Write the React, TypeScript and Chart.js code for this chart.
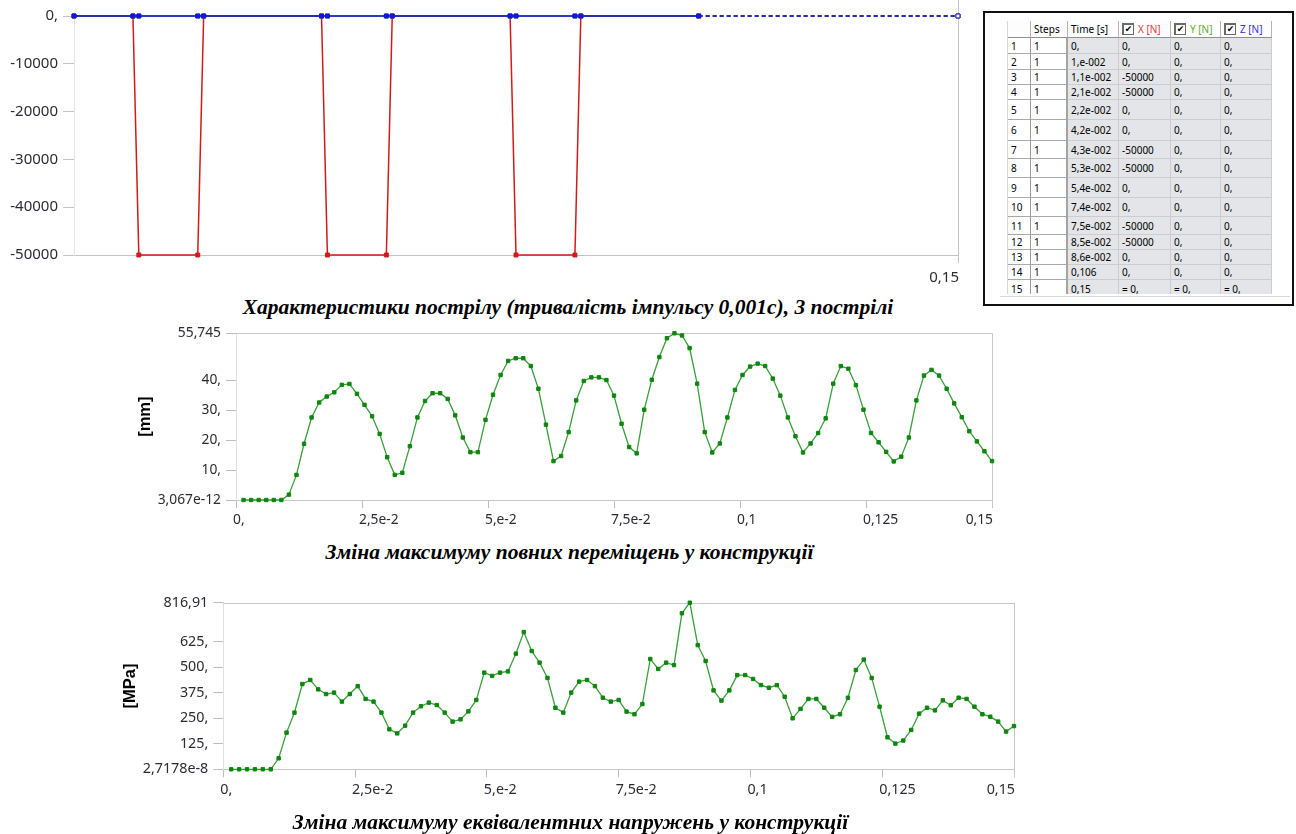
import React, { useEffect, useRef } from 'react';
import { Chart, registerables } from 'chart.js';

Chart.register(...registerables);

// ---------- Force history (top chart + table) ----------
const forceTime = [0, 0.01, 0.011, 0.021, 0.022, 0.042, 0.043, 0.053, 0.054, 0.074, 0.075, 0.085, 0.086, 0.106, 0.15];
const forceX = [0, 0, -50000, -50000, 0, 0, -50000, -50000, 0, 0, -50000, -50000, 0, 0, 0];
const forceY = [0, 0, 0, 0, 0, 0, 0, 0, 0, 0, 0, 0, 0, 0, 0];
const forceZ = [0, 0, 0, 0, 0, 0, 0, 0, 0, 0, 0, 0, 0, 0, 0];
const forceSteps = [1, 1, 1, 1, 1, 1, 1, 1, 1, 1, 1, 1, 1, 1, 1];
const forceTimeLabels = ['0,', '1,e-002', '1,1e-002', '2,1e-002', '2,2e-002', '4,2e-002', '4,3e-002', '5,3e-002', '5,4e-002', '7,4e-002', '7,5e-002', '8,5e-002', '8,6e-002', '0,106', '0,15'];
const forceTickValues = [0, -10000, -20000, -30000, -40000, -50000];
const forceTickLabels = ['0,', '-10000', '-20000', '-30000', '-40000', '-50000'];
const forceXTickValues = [0.15];
const forceXTickLabels = ['0,15'];

// ---------- Simulation results (middle + bottom charts) ----------
const simTime = [
  0.0015, 0.003, 0.0045, 0.006, 0.0075, 0.009, 0.0105, 0.012, 0.0135, 0.015,
  0.0165, 0.018, 0.0195, 0.021, 0.0225, 0.024, 0.0255, 0.027, 0.0285, 0.03,
  0.0315, 0.033, 0.0345, 0.036, 0.0375, 0.039, 0.0405, 0.042, 0.0435, 0.045,
  0.0465, 0.048, 0.0495, 0.051, 0.0525, 0.054, 0.0555, 0.057, 0.0585, 0.06,
  0.0615, 0.063, 0.0645, 0.066, 0.0675, 0.069, 0.0705, 0.072, 0.0735, 0.075,
  0.0765, 0.078, 0.0795, 0.081, 0.0825, 0.084, 0.0855, 0.087, 0.0885, 0.09,
  0.0915, 0.093, 0.0945, 0.096, 0.0975, 0.099, 0.1005, 0.102, 0.1035, 0.105,
  0.1065, 0.108, 0.1095, 0.111, 0.1125, 0.114, 0.1155, 0.117, 0.1185, 0.12,
  0.1215, 0.123, 0.1245, 0.126, 0.1275, 0.129, 0.1305, 0.132, 0.1335, 0.135,
  0.1365, 0.138, 0.1395, 0.141, 0.1425, 0.144, 0.1455, 0.147, 0.1485, 0.15,
];
const displacement = [
  3.067e-12, 3.067e-12, 3.067e-12, 3.067e-12, 3.067e-12, 3.067e-12, 1.8, 8.4, 18.8, 27.6,
  32.6, 34.6, 36.0, 38.5, 38.8, 35.5, 31.8, 28.0, 22.1, 14.3,
  8.4, 9.1, 18.0, 27.6, 33.1, 35.7, 35.7, 33.8, 28.3, 20.9,
  16.0, 16.0, 26.8, 35.2, 41.8, 46.5, 47.4, 47.4, 44.8, 37.2,
  25.2, 13.0, 14.7, 22.7, 33.3, 39.8, 41.0, 41.0, 40.1, 34.9,
  25.5, 17.7, 15.6, 30.2, 40.2, 47.8, 54.1, 55.745, 55.0, 50.8,
  38.9, 22.7, 15.9, 18.9, 27.6, 36.8, 41.8, 44.6, 45.6, 44.8,
  40.6, 34.9, 27.6, 21.3, 15.9, 18.9, 22.4, 27.3, 38.9, 44.8,
  43.9, 38.4, 30.2, 22.4, 19.3, 16.1, 12.9, 14.5, 20.9, 33.3,
  41.6, 43.5, 41.6, 37.2, 32.3, 27.7, 23.0, 19.6, 16.3, 13.0,
];
const stress = [
  2.7178e-8, 2.7178e-8, 2.7178e-8, 2.7178e-8, 2.7178e-8, 2.7178e-8, 54, 180, 278, 418,
  438, 392, 369, 376, 332, 369, 408, 345, 332, 278,
  196, 176, 214, 278, 309, 327, 315, 278, 234, 245,
  284, 340, 474, 458, 474, 480, 567, 673, 580, 523,
  448, 302, 278, 376, 430, 438, 408, 351, 332, 340,
  283, 270, 320, 541, 492, 523, 511, 765, 816.91, 609,
  531, 387, 337, 387, 462, 462, 443, 413, 400, 413,
  356, 250, 296, 345, 345, 302, 257, 270, 351, 487,
  538, 448, 307, 157, 126, 141, 193, 273, 302, 289,
  338, 314, 351, 345, 307, 270, 258, 234, 185, 212,
];
const timeTickValues = [0, 0.025, 0.05, 0.075, 0.1, 0.125, 0.15];
const timeTickLabels = ['0,', '2,5e-2', '5,e-2', '7,5e-2', '0,1', '0,125', '0,15'];
const dispTickValues = [3.067e-12, 10, 20, 30, 40, 55.745];
const dispTickLabels = ['3,067e-12', '10,', '20,', '30,', '40,', '55,745'];
const stressTickValues = [2.7178e-8, 125, 250, 375, 500, 625, 816.91];
const stressTickLabels = ['2,7178e-8', '125,', '250,', '375,', '500,', '625,', '816,91'];

const captionTop = 'Характеристики пострілу (тривалість імпульсу 0,001с), 3 пострілі';
const captionMid = 'Зміна максимуму повних переміщень у конструкції';
const captionBot = 'Зміна максимуму еквівалентних напружень у конструкції';

// ---------- styling ----------
const TICK_COLOR = '#2b2b36';
const TICK_FAMILY = '"Noto Sans", "Open Sans", sans-serif';

function xLabelsPlugin(values: number[], labels: string[], size: number, offset: number) {
  return {
    id: 'xLabels',
    afterDraw(chart: any) {
      const { ctx, chartArea } = chart;
      const scale = chart.scales.x;
      ctx.save();
      ctx.font = `${size}px ${TICK_FAMILY}`;
      ctx.fillStyle = TICK_COLOR;
      ctx.textBaseline = 'middle';
      values.forEach((v, i) => {
        const px = scale.getPixelForValue(v);
        const isLast = i === values.length - 1;
        ctx.textAlign = isLast ? 'right' : 'left';
        ctx.fillText(labels[i], isLast ? px + 1 : px - 3, chartArea.bottom + offset);
      });
      ctx.restore();
    },
  };
}

function framePlugin(color: string, drawTop: boolean, topExtend: number, bottomExtend: number) {
  return {
    id: 'frame',
    beforeDatasetsDraw(chart: any) {
      const { ctx, chartArea: a } = chart;
      ctx.save();
      ctx.strokeStyle = color;
      ctx.lineWidth = 1;
      ctx.beginPath();
      if (drawTop) {
        const ty = Math.round(a.top) + 0.5;
        ctx.moveTo(a.left, ty);
        ctx.lineTo(a.right, ty);
      }
      const rx = Math.round(a.right) + 0.5;
      ctx.moveTo(rx, a.top - topExtend);
      ctx.lineTo(rx, a.bottom + bottomExtend);
      ctx.stroke();
      ctx.restore();
    },
  };
}

function ChartCanvas(props: { left: number; top: number; width: number; height: number; build: () => any }) {
  const ref = useRef<HTMLCanvasElement>(null);
  useEffect(() => {
    const chart = new Chart(ref.current as HTMLCanvasElement, props.build());
    return () => chart.destroy();
  }, []);
  return (
    <canvas
      ref={ref}
      width={props.width}
      height={props.height}
      style={{ position: 'absolute', left: props.left, top: props.top, width: props.width, height: props.height }}
    />
  );
}

function buildForceChart() {
  const n = forceTime.length;
  const pts = (vals: number[]) => forceTime.map((t, i) => ({ x: t, y: vals[i] }));
  const dashed = (c: any) => (c.p0DataIndex >= n - 2 ? [4, 3] : undefined);
  const blue = '#1414e0';
  const red = '#d21a1a';
  const green = '#2e9e2e';
  return {
    type: 'line',
    data: {
      datasets: [
        {
          label: 'Z [N]', data: pts(forceZ), borderColor: blue, borderWidth: 1.5,
          pointStyle: 'rect', pointRadius: 2.8, pointBorderWidth: 1, pointBorderColor: blue,
          pointBackgroundColor: forceTime.map((_, i) => (i === n - 1 ? '#ffffff' : blue)),
          segment: { borderDash: dashed }, order: 0, clip: false,
        },
        {
          label: 'Y [N]', data: pts(forceY), borderColor: green, borderWidth: 1.5,
          pointStyle: 'rect', pointRadius: 2.8, pointBorderWidth: 1, pointBorderColor: green, pointBackgroundColor: green,
          segment: { borderDash: dashed }, order: 1, clip: false,
        },
        {
          label: 'X [N]', data: pts(forceX), borderColor: red, borderWidth: 1.5,
          pointStyle: 'rect', pointRadius: 2.8, pointBorderWidth: 1, pointBorderColor: red, pointBackgroundColor: red,
          segment: { borderDash: dashed }, order: 2, clip: false,
        },
      ],
    },
    options: {
      animation: false,
      responsive: false,
      devicePixelRatio: 1,
      layout: { padding: { left: 0, top: 16, right: 17, bottom: 0 } },
      plugins: { legend: { display: false }, tooltip: { enabled: false } },
      elements: { line: { tension: 0 } },
      scales: {
        x: {
          type: 'linear', min: 0, max: 0.15,
          afterBuildTicks: (s: any) => { s.ticks = forceXTickValues.map((v) => ({ value: v })); },
          afterFit: (s: any) => { s.height = 37; },
          ticks: { display: false },
          grid: { display: false },
          border: { display: true, color: '#c4c4c4', width: 1 },
        },
        y: {
          type: 'linear', min: -50000, max: 0,
          afterBuildTicks: (s: any) => { s.ticks = forceTickValues.map((v) => ({ value: v })); },
          afterFit: (s: any) => { s.width = 74; },
          ticks: {
            color: TICK_COLOR, padding: 5, font: { family: TICK_FAMILY, size: 15 },
            callback: (_v: any, i: number) => forceTickLabels[i],
          },
          grid: { drawOnChartArea: false, tickLength: 11, color: '#c4c4c4' },
          border: { display: true, color: '#e4e4e4', width: 1 },
        },
      },
    },
    plugins: [framePlugin('#c4c4c4', false, 16, 8), xLabelsPlugin(forceXTickValues, forceXTickLabels, 15, 23)],
  };
}

function buildTimeChart(
  values: number[], yTicks: number[], yLabels: string[], title: string,
  d: { yWidth: number; padTop: number; padRight: number; xHeight: number; titlePad: number; size: number; labelOffset: number }
) {
  return {
    type: 'line',
    data: {
      datasets: [
        {
          data: simTime.map((t, i) => ({ x: t, y: values[i] })),
          borderColor: '#3a9f3a', borderWidth: 1.3,
          pointStyle: 'rect', pointRadius: 2.4, pointBorderWidth: 1,
          pointBackgroundColor: '#0d860d', pointBorderColor: '#0d860d',
          clip: false, tension: 0,
        },
      ],
    },
    options: {
      animation: false,
      responsive: false,
      devicePixelRatio: 1,
      layout: { padding: { left: 0, top: d.padTop, right: d.padRight, bottom: 0 } },
      plugins: { legend: { display: false }, tooltip: { enabled: false } },
      scales: {
        x: {
          type: 'linear', min: 0, max: 0.15,
          afterBuildTicks: (s: any) => { s.ticks = timeTickValues.map((v) => ({ value: v })); },
          afterFit: (s: any) => { s.height = d.xHeight; },
          ticks: { display: false },
          grid: { drawOnChartArea: false, tickLength: 8, color: '#bdbdbd' },
          border: { display: true, color: '#c8c8c8', width: 1 },
        },
        y: {
          type: 'linear', min: yTicks[0], max: yTicks[yTicks.length - 1],
          afterBuildTicks: (s: any) => { s.ticks = yTicks.map((v) => ({ value: v })); },
          afterFit: (s: any) => { s.width = d.yWidth; },
          ticks: {
            color: TICK_COLOR, padding: 5, font: { family: TICK_FAMILY, size: d.size },
            callback: (_v: any, i: number) => yLabels[i],
          },
          grid: { drawOnChartArea: false, tickLength: 10, color: '#bdbdbd' },
          border: { display: true, color: '#e0e0e0', width: 1 },
          title: {
            display: true, text: title, color: '#000',
            font: { family: '"Liberation Sans", Arial, sans-serif', size: 16.5, weight: 'bold' },
            padding: { top: d.titlePad, bottom: 0 },
          },
        },
      },
    },
    plugins: [framePlugin('#c8c8c8', true, 0, 8), xLabelsPlugin(timeTickValues, timeTickLabels, d.size, d.labelOffset)],
  };
}

function Caption(props: { text: string; cx: number; cy: number }) {
  return (
    <div
      style={{
        position: 'absolute', left: props.cx - 450, top: props.cy - 13, width: 900, height: 26,
        lineHeight: '26px', textAlign: 'center', color: '#000',
        font: 'italic bold 21.5px "Liberation Serif", "Times New Roman", serif', whiteSpace: 'nowrap',
      }}
    >
      {props.text}
    </div>
  );
}

function ForceTable() {
  const colWidths = [23, 37, 51, 52, 50, 51];
  const rowHeights = [16, 16, 15, 15, 20, 21, 18, 19, 20, 19, 18, 15, 15, 15, 18];
  const headerH = 17;
  const fmt = (v: number, i: number) => (i === forceTime.length - 1 ? '= ' : '') + (v === 0 ? '0,' : String(v));
  const lefts: number[] = [];
  colWidths.reduce((acc, w) => { lefts.push(acc); return acc + w; }, 0);
  const tops: number[] = [];
  rowHeights.reduce((acc, h) => { tops.push(acc); return acc + h; }, headerH);
  const cells: any[] = [];
  const font = '10px "Noto Sans", "Open Sans", sans-serif';
  const headers = [
    { text: '', color: '#000', check: false },
    { text: 'Steps', color: '#000', check: false },
    { text: 'Time [s]', color: '#000', check: false },
    { text: 'X [N]', color: '#e0393d', check: true },
    { text: 'Y [N]', color: '#5fae2e', check: true },
    { text: 'Z [N]', color: '#3434d8', check: true },
  ];
  headers.forEach((h, c) => {
    cells.push(
      <div key={'h' + c} style={{
        position: 'absolute', left: lefts[c], top: 0, width: colWidths[c], height: headerH, boxSizing: 'border-box',
        background: '#fdfdfd', borderRight: '1px solid #b4b4b4', borderBottom: '1px solid #8f8f8f',
        display: 'flex', alignItems: 'center', paddingLeft: 3, font, color: h.color, whiteSpace: 'nowrap', overflow: 'hidden',
      }}>
        {h.check && (
          <span style={{
            display: 'inline-block', width: 12, height: 12, boxSizing: 'border-box', border: '1px solid #6a6a6a',
            borderTopWidth: 2, borderLeftWidth: 2, background: '#fff', color: '#000', fontSize: 9, lineHeight: '9px',
            textAlign: 'center', marginRight: 4, fontFamily: '"DejaVu Sans", sans-serif',
          }}>✔</span>
        )}
        {h.text}
      </div>
    );
  });
  forceTime.forEach((_, r) => {
    const texts = [String(r + 1), String(forceSteps[r]), forceTimeLabels[r], fmt(forceX[r], r), fmt(forceY[r], r), fmt(forceZ[r], r)];
    texts.forEach((t, c) => {
      const gray = c >= 2;
      cells.push(
        <div key={r + '_' + c} style={{
          position: 'absolute', left: lefts[c], top: tops[r], width: colWidths[c], height: rowHeights[r], boxSizing: 'border-box',
          background: gray ? '#e3e5e8' : '#ffffff',
          borderRight: c === 1 ? '2px solid #a4a4a4' : gray ? '1px solid #cbcdd0' : '1px solid #9c9c9c',
          borderBottom: gray ? '1px solid #cbcdd0' : '1px solid #a8a8a8',
          display: 'flex', alignItems: 'center', paddingLeft: 3, font, color: '#000', whiteSpace: 'nowrap', overflow: 'hidden',
        }}>
          {t}
        </div>
      );
    });
  });
  return (
    <div style={{
      position: 'absolute', left: 983, top: 11, width: 307, height: 291, border: '2px solid #111', background: '#fff',
    }}>
      <div style={{ position: 'absolute', left: 22, top: 8, width: 266, height: 273, overflow: 'hidden', borderLeft: '1px solid #d8d8d8' }}>
        {cells}
      </div>
      <div style={{ position: 'absolute', left: 15, top: 283, width: 290, height: 1, background: '#dadada' }} />
    </div>
  );
}

export default function App() {
  return (
    <div style={{ position: 'absolute', left: 0, top: 0, width: 1296, height: 834, background: '#fff', overflow: 'hidden' }}>
      <ChartCanvas left={0} top={0} width={975} height={292} build={buildForceChart} />
      <ForceTable />
      <Caption text={captionTop} cx={568} cy={308} />
      <ChartCanvas
        left={120} top={320} width={890} height={220}
        build={() => buildTimeChart(displacement, dispTickValues, dispTickLabels, '[mm]',
          { yWidth: 116, padTop: 10.5, padRight: 18, xHeight: 40, titlePad: 15.9, size: 13.8, labelOffset: 20 })}
      />
      <Caption text={captionMid} cx={569.5} cy={553} />
      <ChartCanvas
        left={110} top={585} width={920} height={230}
        build={() => buildTimeChart(stress, stressTickValues, stressTickLabels, '[MPa]',
          { yWidth: 113.3, padTop: 17.7, padRight: 16, xHeight: 45.7, titlePad: 10.1, size: 14.3, labelOffset: 21 })}
      />
      <Caption text={captionBot} cx={570.5} cy={823} />
    </div>
  );
}
